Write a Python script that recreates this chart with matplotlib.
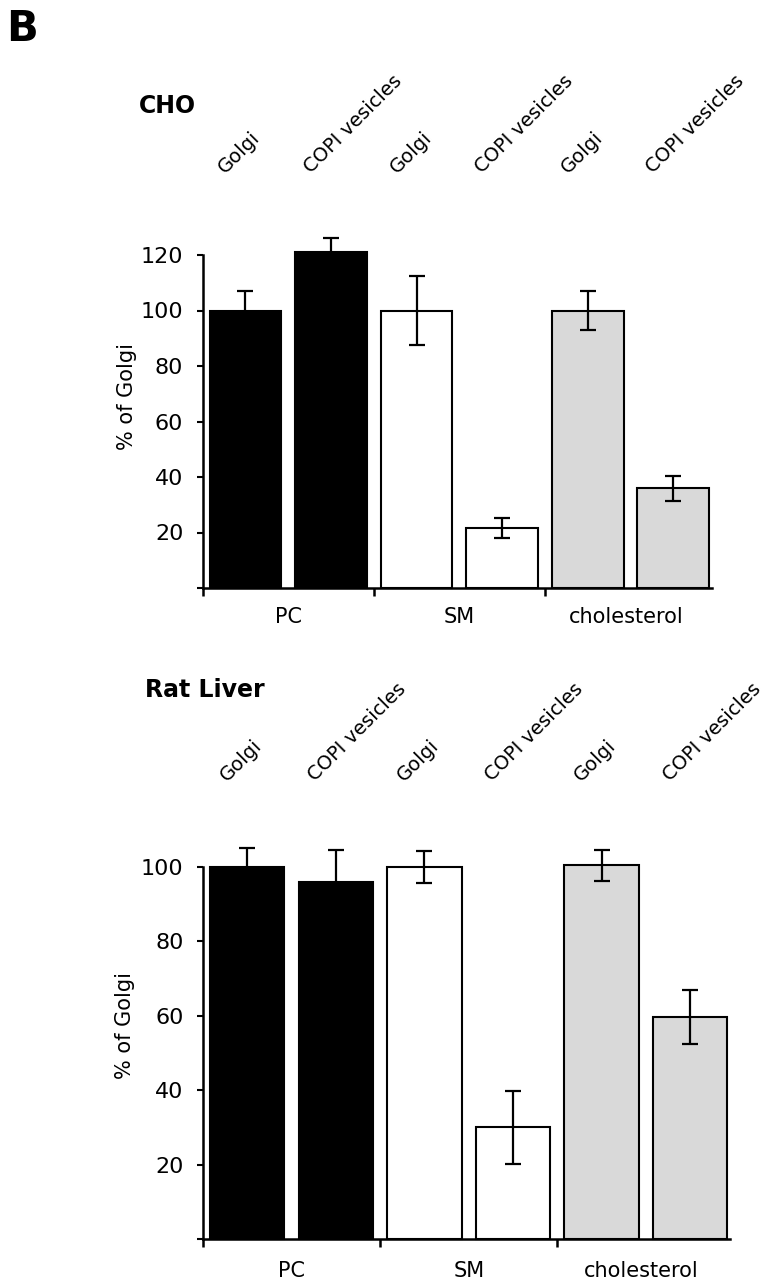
import matplotlib
matplotlib.use("Agg")
import numpy as np
import matplotlib.pyplot as plt

# ── data ─────────────────────────────────────────────────────────────────────
lipids    = ["PC", "SM", "cholesterol"]
fractions = ["Golgi", "COPI vesicles"]

cho_mean   = [100, 121, 100, 21.5, 100, 36]
cho_err    = [7.2, 5.2, 12.6, 3.6, 7.1, 4.5]
liver_mean = [100, 96, 100, 30, 100.5, 59.7]
liver_err  = [5.2, 8.7, 4.2, 9.8, 4.2, 7.3]

cho_yticks   = [0, 20, 40, 60, 80, 100, 120]
liver_yticks = [0, 20, 40, 60, 80, 100]

BAR_COLORS = ["black", "black", "white", "white", "#d9d9d9", "#d9d9d9"]
W = 767
H = 1280

plt.rcParams["font.family"] = ["DejaVu Sans"]

fig = plt.figure(figsize=(W / 100, H / 100), dpi=100)


def panel(rect, means, errs, yticks, ylim, label_y, tick_pad, title, title_xy):
    ax = fig.add_axes(rect)
    x = np.arange(len(means))
    ax.bar(x, means, width=0.84, color=BAR_COLORS, edgecolor="black",
           linewidth=1.5, clip_on=False, zorder=2)
    eb = ax.errorbar(x, means, yerr=errs, fmt="none", ecolor="black",
                     elinewidth=1.6, capsize=5.5, capthick=1.6, zorder=3)
    for art in list(eb.lines[1]) + list(eb.lines[2]):
        art.set_clip_on(False)

    ax.set_xlim(-0.5, 5.45)
    ax.set_ylim(*ylim)
    for s in ("top", "right"):
        ax.spines[s].set_visible(False)
    for s in ("left", "bottom"):
        ax.spines[s].set_linewidth(1.8)

    ax.set_yticks(yticks)
    ax.set_yticklabels([""] + [str(v) for v in yticks[1:]], fontsize=16)
    ax.tick_params(axis="y", length=4, width=1.5, pad=10)

    ax.set_xticks([-0.5, 1.5, 3.5])
    ax.set_xticklabels([])
    ax.tick_params(axis="x", which="major", length=6, width=1.8)
    ax.set_xticks([0.5, 2.5, 4.45], minor=True)
    ax.set_xticklabels(lipids, minor=True, fontsize=15)
    ax.tick_params(axis="x", which="minor", length=0, pad=tick_pad)

    ax.set_ylabel("% of Golgi", fontsize=15)
    ax.yaxis.set_label_coords(-0.129, 0.574)

    # column headers, rotated 45 degrees above each bar
    for i in range(len(means)):
        ax.text(i - 0.2, label_y, fractions[i % 2], rotation=45,
                rotation_mode="anchor", ha="left", va="bottom", fontsize=14,
                clip_on=False)

    fig.text(title_xy[0] / W, 1 - title_xy[1] / H, title, ha="left",
             va="baseline", fontsize=17, fontweight="bold")
    return ax


panel([202.7 / W, 1 - 588 / H, 509 / W, 333 / H], cho_mean, cho_err,
      cho_yticks, (0, 120), 148, 14, "CHO", (139, 113))
panel([203 / W, 1 - 1239 / H, 527 / W, 372 / H], liver_mean, liver_err,
      liver_yticks, (0, 100), 122, 16, "Rat Liver", (145, 697))

fig.text(6 / W, 1 - 41 / H, "B", ha="left", va="baseline", fontsize=30,
         fontweight="heavy")

fig.savefig("out.png", dpi=100)
